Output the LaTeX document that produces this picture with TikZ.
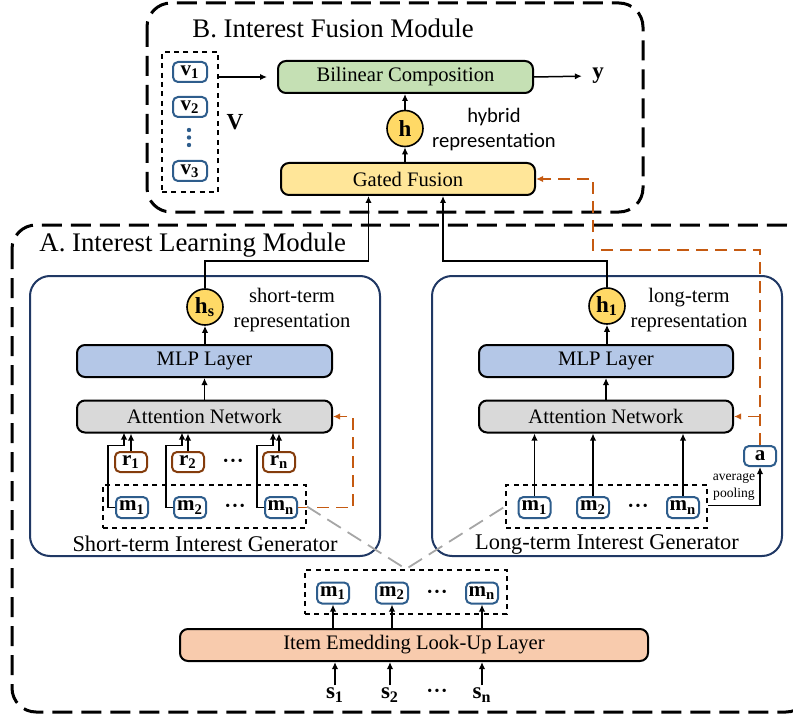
\documentclass[tikz,border=0pt]{standalone}
\usepackage{fontspec}
\setmainfont{Liberation Serif}
\newfontfamily\hybridfont{Carlito}
\usetikzlibrary{arrows.meta,calc}
\definecolor{greenc}{HTML}{C5E0B4}
\definecolor{gatedc}{HTML}{FFE699}
\definecolor{hyellow}{HTML}{FFD966}
\definecolor{mlpc}{HTML}{B4C7E7}
\definecolor{attc}{HTML}{D9D9D9}
\definecolor{embc}{HTML}{F8CBAD}
\definecolor{navyc}{HTML}{203864}
\definecolor{itemblue}{HTML}{2E5D8C}
\definecolor{rbrown}{HTML}{843C0C}
\definecolor{orangec}{HTML}{C55A11}
\definecolor{grayc}{HTML}{A6A6A6}
\tikzset{
  layer/.style={draw=black, line width=1pt, rounded corners=4pt, minimum height=16pt,
    inner sep=0pt, font=\fontsize{10.3}{12}\selectfont},
  item/.style={draw=itemblue, line width=1pt, rounded corners=2.5pt, minimum width=16pt,
    minimum height=10.5pt, inner sep=0pt, fill=white, font=\fontsize{10.5}{12}\selectfont\bfseries},
  ritem/.style={item, draw=rbrown, minimum height=10pt},
  hcirc/.style={circle, draw=black, line width=0.8pt, fill=hyellow, minimum size=18pt,
    inner sep=0pt, font=\fontsize{11.5}{12}\selectfont\bfseries},
  arr/.style={-{Latex[length=3.5pt,width=3.2pt]}, line width=0.75pt},
  odash/.style={draw=orangec, line width=0.8pt, dash pattern=on 6pt off 3.5pt},
  dotbox/.style={draw=black, line width=1pt, dash pattern=on 2.5pt off 2.2pt, inner sep=0pt},
  outerbox/.style={draw=black, line width=1.5pt, dash pattern=on 10pt off 4.5pt, rounded corners=12pt},
  subbox/.style={draw=navyc, line width=1pt, rounded corners=10pt},
  graydash/.style={draw=grayc, line width=0.9pt, dash pattern=on 8pt off 4pt},
  plain/.style={font=\fontsize{10.3}{12.5}\selectfont, align=center, inner sep=0pt},
  gen/.style={font=\fontsize{11.2}{13}\selectfont, inner sep=0pt},
  title/.style={font=\fontsize{13.4}{15}\selectfont, anchor=west, inner sep=0pt},
  dots/.style={font=\fontsize{7}{7}\selectfont, inner sep=0pt},
  lab/.style={font=\fontsize{11.5}{12}\selectfont\bfseries, inner sep=1pt}
}
\begin{document}
\begin{tikzpicture}[x=0.5pt,y=-0.5pt]
\useasboundingbox (0,0) rectangle (793,717);
\clip (0,0) rectangle (793,717);

% ---------- containers ----------
\draw[outerbox] (147,3) rectangle (643,212);
\draw[outerbox] (12,225) rectangle (810,712);
\draw[subbox] (30,276) rectangle (380,556);
\draw[subbox] (432,276) rectangle (782,556);

\node[title] (titleB) at (192,28) {B. Interest Fusion Module};
\node[title] (titleA) at (39,245) {A. Interest Learning Module};

% ---------- B: fusion module ----------
\node[dotbox, minimum width=28pt, minimum height=70pt] (vbox) at (190,122) {};
\node[item, minimum width=17pt, minimum height=10pt] (v1) at (190,72) {v\textsubscript{1}};
\node[item, minimum width=17pt, minimum height=10pt] (v2) at (190,107) {v\textsubscript{2}};
\node[item, minimum width=17pt, minimum height=10pt] (v3) at (190,171) {v\textsubscript{3}};
\fill[itemblue] (189,130) circle (1.1pt) (189,137.5) circle (1.1pt) (189,145) circle (1.1pt);
\node[lab] (Vlab) at (235,122) {V};

\node[layer, fill=greenc, minimum width=127.5pt] (bil) at (405.5,77) {Bilinear Composition};
\node[layer, fill=gatedc, minimum width=127pt] (gate) at (408,179) {Gated Fusion};
\node[hcirc] (h) at (405,128.5) {h};
\node[font=\hybridfont\fontsize{10.3}{12.5}\selectfont, align=center, inner sep=0pt] (hyb) at (494,130) {hybrid\\representation};
\node[lab, inner sep=0pt] (yout) at (598,76) {y};

\draw[arr, shorten >=5pt] (vbox.east |- bil) -- (bil.west);
\draw[arr, shorten >=5pt] (bil.east) -- (yout.west);
\draw[arr] (h.north) -- (h.north |- bil.south);
\draw[arr] (h.south |- gate.north) -- (h.south);

% ---------- short-term generator ----------
\node[hcirc] (hs) at (205,307) {h\textsubscript{s}};
\node[plain] (stlab) at (292,310) {short-term\\representation};
\node[layer, fill=mlpc, minimum width=127.5pt] (mlpS) at (204.5,361) {MLP Layer};
\node[layer, fill=attc, minimum width=127.5pt] (attS) at (204.5,416.5) {Attention Network};

\node[dotbox, minimum width=101.5pt, minimum height=21.5pt] (mbS) at (204.5,506.5) {};
\node[ritem] (r1) at (131,462) {r\textsubscript{1}};
\node[ritem] (r2) at (188,462) {r\textsubscript{2}};
\node[ritem] (rn) at (279,462) {r\textsubscript{n}};
\node[dots] (rdots) at (233,462) {•\,•\,•};
\node[item] (m1) at (132,507.5) {m\textsubscript{1}};
\node[item] (m2) at (190,507.5) {m\textsubscript{2}};
\node[item] (mn) at (281,507.5) {m\textsubscript{n}};
\node[dots] (mdots) at (235,507.5) {•\,•\,•};
\node[gen] (genS) at (205,544) {Short-term Interest Generator};

\draw[arr] (mlpS.north -| hs) -- (hs.south);
\draw[arr] (attS.north) -- (mlpS.south);
\draw[arr] (m1.west) -- ++(-7,0) -- ++(0,-62) -- ++(16,0) -- ++(0,-13);
\draw[arr] (m2.west) -- ++(-7,0) -- ++(0,-62) -- ++(16,0) -- ++(0,-13);
\draw[arr] (mn.west) -- ++(-7,0) -- ++(0,-62) -- ++(16,0) -- ++(0,-13);
\draw[arr] (r1.north) -- (r1.north |- attS.south);
\draw[arr] (r2.north) -- (r2.north |- attS.south);
\draw[arr] (rn.north) -- (rn.north |- attS.south);
\draw[odash, arr] (mn.east) -- ++(55,0) |- (attS.east);
\draw[arr] (hs.north) -- ++(0,-27) -| ([xshift=-19.75pt]gate.south);

% ---------- long-term generator ----------
\node[hcirc] (hl) at (607,306) {h\textsubscript{1}};
\node[plain] (ltlab) at (689,310) {long-term\\representation};
\node[layer, fill=mlpc, minimum width=127pt] (mlpL) at (606,361) {MLP Layer};
\node[layer, fill=attc, minimum width=127pt] (attL) at (606,416.5) {Attention Network};

\node[dotbox, minimum width=100.5pt, minimum height=21.5pt] (mbL) at (606.5,506.5) {};
\node[item] (mL1) at (534.5,507.5) {m\textsubscript{1}};
\node[item] (mL2) at (593,507.5) {m\textsubscript{2}};
\node[item] (mLn) at (683,507.5) {m\textsubscript{n}};
\node[dots] (mLdots) at (638,507.5) {•\,•\,•};
\node[gen] (genL) at (607,544) {Long-term Interest Generator};
\node[item, minimum height=10pt] (a) at (760,456) {a};
\node[font=\fontsize{6.8}{8.5}\selectfont, align=center, inner sep=0pt] (avg) at (734,486.5) {average\\pooling};

\draw[arr] (mlpL.north -| hl) -- (hl.south);
\draw[arr] (attL.north) -- (mlpL.south);
\draw[arr] (mL1.north) -- (mL1.north |- attL.south);
\draw[arr] (mL2.north) -- (mL2.north |- attL.south);
\draw[arr] (mLn.north) -- (mLn.north |- attL.south);
\draw[arr] ([yshift=0.5pt]mbL.east) -| (a.south);
\draw[odash, arr] (a.north) -- ++(0,-195) -| ([xshift=28.5pt]gate.east) -- (gate.east);
\draw[odash, arr] (a.north |- attL.east) -- (attL.east);
\draw[arr] (hl.north) -- ++(0,-26) -| ([xshift=17.5pt]gate.south);

% ---------- bottom: embedding ----------
\node[dotbox, minimum width=101pt, minimum height=22pt] (mbB) at (406,592) {};
\node[item] (mB1) at (333,593) {m\textsubscript{1}};
\node[item] (mB2) at (392,593) {m\textsubscript{2}};
\node[item] (mBn) at (482,593) {m\textsubscript{n}};
\node[dots] (mBdots) at (437,593) {•\,•\,•};
\node[layer, fill=embc, minimum width=234pt] (emb) at (414,645) {Item Emedding Look-Up Layer};
\node[lab] (s1) at (335,695) {s\textsubscript{1}};
\node[lab] (s2) at (390,695) {s\textsubscript{2}};
\node[lab] (sn) at (482,695) {s\textsubscript{n}};
\node[dots] (sdots) at (437,692) {•\,•\,•};

\draw[arr] (emb.north -| mB1) -- (mB1.south);
\draw[arr] (emb.north -| mB2) -- (mB2.south);
\draw[arr] (emb.north -| mBn) -- (mBn.south);
\draw[arr] (s1.north) -- (s1.north |- emb.south);
\draw[arr] (s2.north) -- (s2.north |- emb.south);
\draw[arr] (sn.north) -- (sn.north |- emb.south);

\draw[graydash] (mbS.east) -- (mbB.north) -- (mbL.west);
\end{tikzpicture}
\end{document}
